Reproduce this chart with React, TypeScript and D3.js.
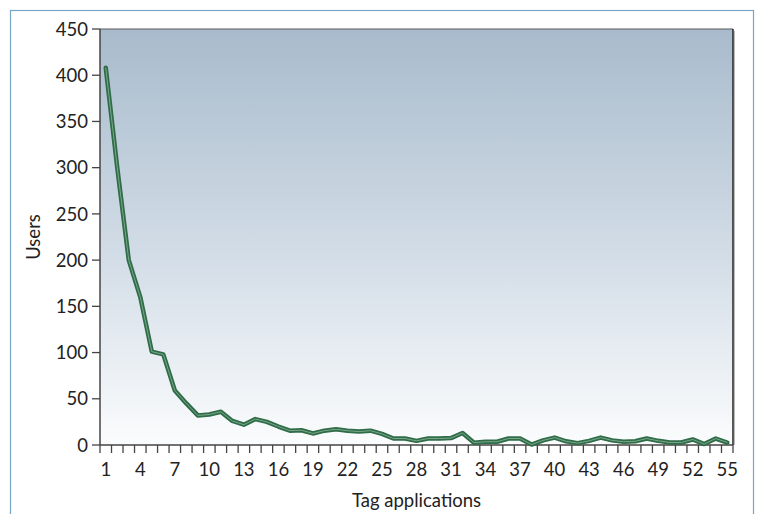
import React from "react";
import * as d3 from "d3";

const categories: number[] = d3.range(1, 56);
const users: number[] = [
  408, 300, 200, 160, 101, 98, 59, 45, 32, 33,
  36, 26, 22, 28, 25, 20, 15.5, 16, 12.5, 15.5,
  17, 15.5, 14.5, 15.5, 12, 7, 7, 4.5, 7, 7,
  7.5, 13, 2.5, 3.5, 3.5, 7, 7, 0.5, 5, 8,
  4, 2, 4.5, 8, 5, 3.5, 4, 7, 4.5, 2.7,
  2.7, 6, 1, 7, 2.7,
];
const yTicks: number[] = [0, 50, 100, 150, 200, 250, 300, 350, 400, 450];
const xTickLabels: number[] = d3.range(1, 56, 3);

const W = 758;
const H = 514;
const M = { left: 100, top: 29, right: 733, bottom: 445 };
const FONT = "Lato, 'Open Sans', sans-serif";
const FS = 18.5;

export default function App() {
  const x = d3.scaleBand<number>().domain(categories).range([M.left, M.right]).padding(0);
  const y = d3.scaleLinear().domain([0, 450]).range([M.bottom, M.top]);
  const cx = (c: number) => (x(c) as number) + x.bandwidth() / 2;
  const line = d3
    .line<number>()
    .x((_, i) => cx(categories[i]))
    .y((d) => y(d));
  const path = line(users) || "";
  const edges = categories.map((c) => x(c) as number).concat([M.right]);

  return (
    <svg width={W} height={H} style={{ position: "absolute", left: 0, top: 0 }}>
      <defs>
        <linearGradient id="bg" x1="0" y1="0" x2="0" y2="1">
          <stop offset="0%" stopColor="#a8bbcc" />
          <stop offset="55%" stopColor="#d3dde7" />
          <stop offset="100%" stopColor="#fbfcfd" />
        </linearGradient>
      </defs>
      <rect x={0} y={0} width={W} height={H} fill="#ffffff" />
      <rect x={10.5} y={10.5} width={743} height={520} fill="none" stroke="#7aa6c6" strokeWidth={1.2} />
      <rect x={M.left} y={M.top} width={M.right - M.left} height={M.bottom - M.top} fill="url(#bg)" />
      <line x1={M.left} x2={M.right} y1={M.top} y2={M.top} stroke="#5a5a5a" strokeWidth={1.2} />
      <line x1={M.right} x2={M.right} y1={M.top} y2={M.bottom} stroke="#222" strokeWidth={1.5} />
      <line x1={M.right + 1.5} x2={M.right + 1.5} y1={M.top + 2} y2={M.bottom} stroke="#bbb" strokeWidth={1} />
      <line x1={M.left} x2={M.left} y1={M.top} y2={M.bottom} stroke="#444" strokeWidth={1.5} />
      <line x1={M.left} x2={M.right} y1={M.bottom} y2={M.bottom} stroke="#444" strokeWidth={1.5} />
      {yTicks.map((t) => (
        <g key={t}>
          <line x1={M.left - 8} x2={M.left} y1={y(t)} y2={y(t)} stroke="#444" strokeWidth={1.3} />
          <text x={M.left - 12} y={y(t)} dy="0.36em" textAnchor="end" fontFamily={FONT} fontSize={FS} fill="#222">
            {t}
          </text>
        </g>
      ))}
      {edges.map((e, i) => (
        <line key={i} x1={e} x2={e} y1={M.bottom} y2={M.bottom + 8} stroke="#444" strokeWidth={1.3} />
      ))}
      {xTickLabels.map((c) => (
        <text key={c} x={cx(c)} y={M.bottom + 31} textAnchor="middle" fontFamily={FONT} fontSize={FS} fill="#222">
          {c}
        </text>
      ))}
      <path d={path} fill="none" stroke="#2f6c48" strokeWidth={4.5} strokeLinejoin="round" strokeLinecap="round" />
      <path d={path} fill="none" stroke="#8db59a" strokeWidth={1} strokeOpacity={0.8} strokeLinejoin="round" />
      <text x={cx(28)} y={507} textAnchor="middle" fontFamily={FONT} fontSize={FS} fill="#222">
        Tag applications
      </text>
      <text
        transform={`translate(40, ${(M.top + M.bottom) / 2}) rotate(-90)`}
        textAnchor="middle"
        fontFamily={FONT}
        fontSize={FS}
        fill="#222"
      >
        Users
      </text>
    </svg>
  );
}
